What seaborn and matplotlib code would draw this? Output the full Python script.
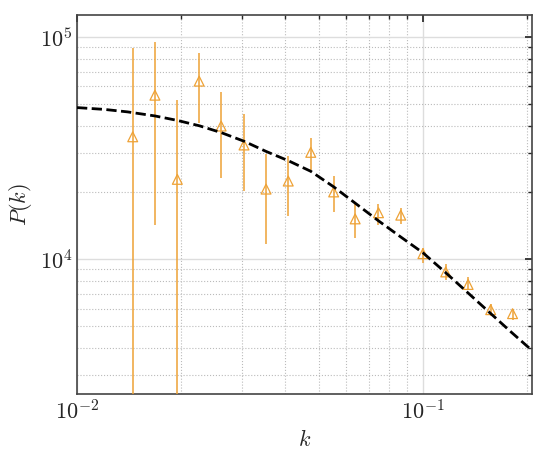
import matplotlib
matplotlib.use("Agg")
import matplotlib.pyplot as plt
import numpy as np
import pandas as pd
import seaborn as sns

k = [0.01449, 0.0168, 0.0195, 0.02255, 0.0261, 0.0304, 0.0352, 0.0408, 0.0474,
     0.0552, 0.0637, 0.0744, 0.0863, 0.100, 0.1164, 0.1351, 0.157, 0.1816]
pk = [35600, 54800, 22900, 63400, 39800, 32700, 20700, 22500, 30300,
      20100, 15200, 16200, 15800, 10600, 8770, 7700, 5930, 5690]
pk_hi = [89600, 95200, 52400, 85300, 56500, 44900, 29700, 29200, 35300,
         23600, 17900, 17800, 17100, 11200, 9570, 8280, 6310, 6000]
pk_lo = [100, 14200, 100, 41100, 23200, 20300, 11700, 15600, 25200,
         16300, 12500, 14200, 14400, 9600, 8090, 7250, 5530, 5350]

model_k = [0.0100, 0.0120, 0.0140, 0.0168, 0.0195, 0.0226, 0.0261, 0.0304,
           0.0352, 0.0408, 0.0474, 0.0552, 0.0637, 0.0744, 0.0863, 0.100,
           0.1164, 0.1351, 0.157, 0.180, 0.2065]
model_pk = [48200, 47300, 46100, 44200, 42200, 39900, 37200, 34000,
            30600, 27800, 24900, 21200, 17900, 14900, 12600, 10700,
            8700, 7050, 5700, 4700, 3890]

sns.set_theme(style="white")
plt.rcParams["font.family"] = "serif"
plt.rcParams["font.serif"] = ["cmr10", "DejaVu Serif"]
plt.rcParams["mathtext.fontset"] = "cm"
plt.rcParams["axes.formatter.use_mathtext"] = True

fig = plt.figure(figsize=(5.5, 4.61), dpi=100)
ax = fig.add_axes([0.14, 0.145, 0.827, 0.822])
ax.set_xscale("log")
ax.set_yscale("log")

orange = "#eea236"
pk_a = np.array(pk)
yerr = [pk_a - np.array(pk_lo), np.array(pk_hi) - pk_a]
ax.errorbar(k, pk, yerr=yerr, fmt="none", ecolor=orange, elinewidth=1.1, zorder=3)
sns.scatterplot(x=k, y=pk, marker="^", s=50, facecolors="none",
                edgecolor=orange, linewidth=0.9, ax=ax, zorder=4)
df = pd.DataFrame({"k": model_k, "pk": model_pk})
sns.lineplot(data=df, x="k", y="pk", color="black", linestyle="--",
             linewidth=2, ax=ax, zorder=5)

ax.set_xlim(0.01, 0.2065)
ax.set_ylim(2470, 125600)
ax.grid(True, which="major", color="#dddddd", linewidth=1, linestyle="-")
ax.grid(True, which="minor", color="#bbbbbb", linewidth=0.8, linestyle=":")
ax.tick_params(which="both", direction="in", top=True, right=True)
ax.tick_params(which="major", length=5, labelsize=16)
ax.tick_params(which="minor", length=3)
for s in ax.spines.values():
    s.set_color("#444444")
    s.set_linewidth(1.2)
ax.set_xlabel(r"$k$", fontsize=16)
ax.set_ylabel(r"$P(k)$", fontsize=16)
ax.tick_params(axis="y", which="minor", labelleft=False)
ax.tick_params(axis="x", which="minor", labelbottom=False)

fig.savefig("out.png", dpi=100)
